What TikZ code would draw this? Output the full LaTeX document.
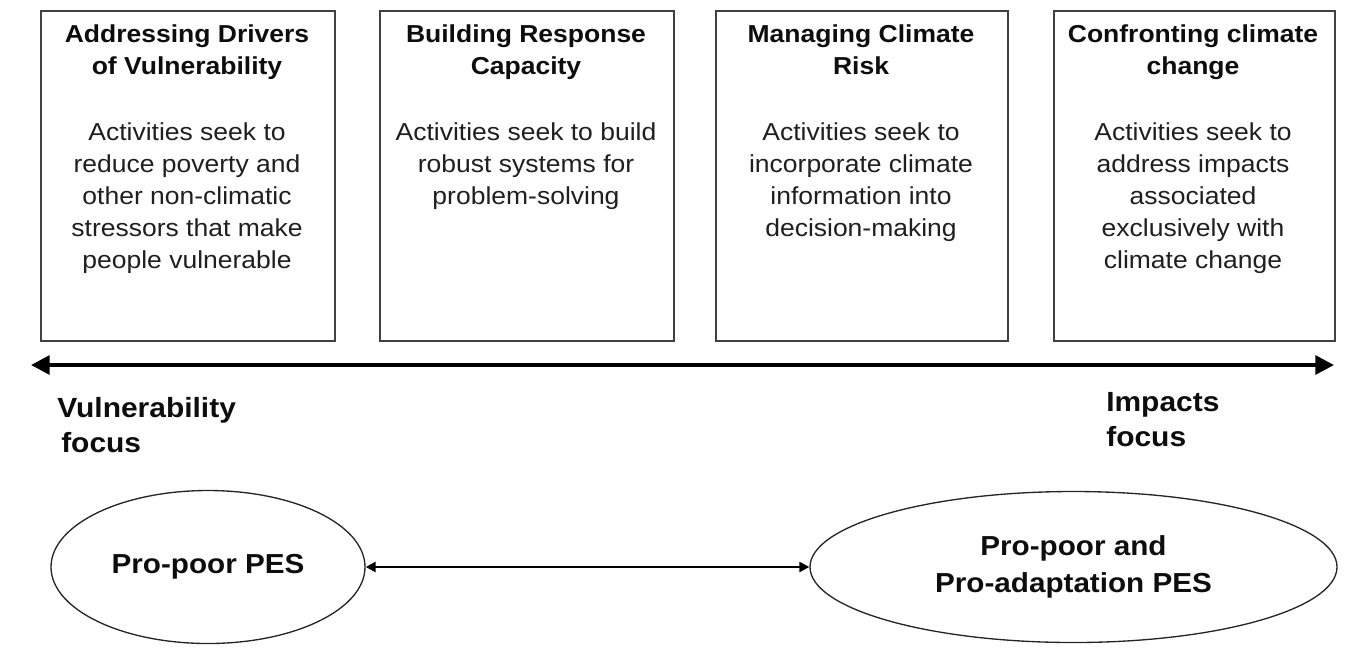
\documentclass[tikz,border=0pt]{standalone}
\usepackage{fontspec}
\setmainfont[FakeStretch=1.08]{Liberation Sans}
\usetikzlibrary{arrows.meta,shapes.geometric}
\tikzset{
  stagebox/.style={draw=black!75, line width=1.5pt, minimum width=220.5pt, minimum height=247.5pt, anchor=north west, inner sep=0pt},
  boxtitle/.style={anchor=north, align=center, inner sep=0pt, text=black!95, font={\fontsize{18.4}{24}\selectfont\bfseries}},
  boxbody/.style={anchor=north, align=center, inner sep=0pt, text=black!88, font={\fontsize{18.4}{24}\selectfont}},
  focuslabel/.style={anchor=north west, align=left, inner sep=0pt, text=black!95, font={\fontsize{20.8}{26}\selectfont\bfseries}},
  pesnode/.style={draw=black!85, line width=1pt, ellipse, inner sep=0pt, align=center, text=black!95, font={\fontsize{20.6}{27.5}\selectfont\bfseries}},
}
\begin{document}
\begin{tikzpicture}[x=0.75pt, y=-0.75pt]
\useasboundingbox (0,0) rectangle (1348,651);
% boxes
\node[stagebox] (b1) at (40,10) {};
\node[stagebox, minimum width=220.5pt] (b2) at (379,10) {};
\node[stagebox, minimum width=219pt] (b3) at (715,10) {};
\node[stagebox, minimum width=210.75pt] (b4) at (1053,10) {};
% titles
\node[boxtitle] (t1) at (187,24) {Addressing Drivers\\of Vulnerability};
\node[boxtitle] (t2) at (526,24) {Building Response\\Capacity};
\node[boxtitle] (t3) at (861,24) {Managing Climate\\Risk};
\node[boxtitle] (t4) at (1193,24) {Confronting climate\\change};
% bodies
\node[boxbody] (d1) at (187,122) {Activities seek to\\reduce poverty and\\other non-climatic\\stressors that make\\people vulnerable};
\node[boxbody] (d2) at (526,122) {Activities seek to build\\robust systems for\\problem-solving};
\node[boxbody] (d3) at (861,122) {Activities seek to\\incorporate climate\\information into\\decision-making};
\node[boxbody] (d4) at (1193,122) {Activities seek to\\address impacts\\associated\\exclusively with\\climate change};
% main axis
\coordinate (axl) at (31,365);
\coordinate (axr) at (1334,365);
\draw[line width=3pt, {Triangle[length=14pt,width=14pt]}-{Triangle[length=14pt,width=14pt]}] (axl) -- (axr);
% focus labels
\node[focuslabel] (vf) at (57,397) {Vulnerability\\\hspace*{3pt}focus};
\node[focuslabel] (if) at (1106,392) {Impacts\\focus};
% ellipses
\node[pesnode, minimum width=235.5pt, minimum height=114.75pt] (e1) at (208,567) {Pro-poor PES};
\node[pesnode, minimum width=395.25pt, minimum height=113.25pt] (e2) at (1073.5,567) {Pro-poor and\\Pro-adaptation PES};
\draw[line width=2pt, {Triangle[length=7.5pt,width=7.5pt]}-{Triangle[length=7.5pt,width=7.5pt]}] (e1.east) -- (e2.west);
\end{tikzpicture}
\end{document}
